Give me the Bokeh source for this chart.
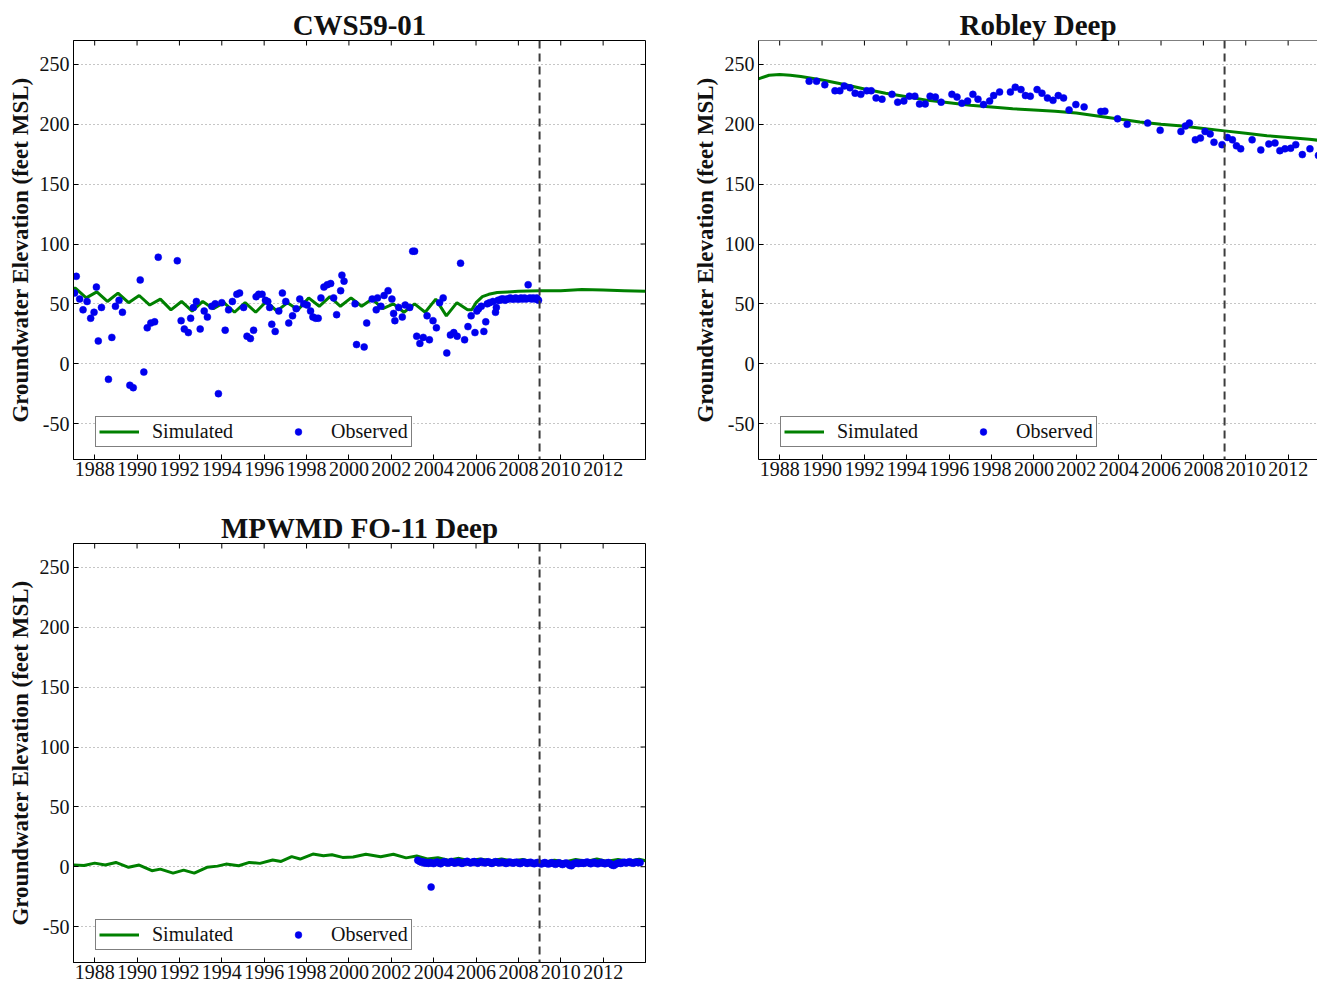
from bokeh.plotting import figure
from bokeh.models import Range1d, LinearAxis, FixedTicker, Span, Legend, LegendItem, Grid
from bokeh.layouts import column, row
from bokeh.embed import file_html
from bokeh.resources import INLINE

FONT = "Liberation Serif"

# ---------------- data ----------------
x_ticks = [1988, 1990, 1992, 1994, 1996, 1998, 2000, 2002, 2004, 2006, 2008, 2010, 2012]
y_ticks = [-50, 0, 50, 100, 150, 200, 250]
titles = ["CWS59-01", "Robley Deep", "MPWMD FO-11 Deep"]
y_label = "Groundwater Elevation (feet MSL)"
cutoff_year = 2009

# CWS59-01 simulated
cws_sim_year = [1987.0, 1987.1, 1987.6, 1988.1, 1988.6, 1989.1, 1989.6, 1990.1, 1990.6, 1991.1,
                1991.6, 1992.1, 1992.6, 1993.1, 1993.6, 1994.1, 1994.6, 1995.1, 1995.6, 1996.1,
                1996.6, 1997.1, 1997.6, 1998.1, 1998.6, 1999.1, 1999.6, 2000.1, 2000.6, 2001.1,
                2001.6, 2002.1, 2002.6, 2003.1, 2003.6, 2004.1, 2004.6, 2005.1, 2005.6, 2005.8,
                2006.0, 2006.3, 2006.6, 2007.0, 2007.5, 2008.0, 2009.0, 2010.0, 2011.0, 2012.0,
                2013.0, 2014.0]
cws_sim_val = [63, 63, 55, 60, 52, 59, 51, 57, 49, 54,
               45, 52, 44, 52, 46, 51, 43, 51, 43, 52,
               44, 51, 45, 55, 48, 56, 48, 55, 48, 54,
               46, 50, 43, 50, 43, 54, 40, 51, 45, 45,
               51, 56, 58, 59.5, 60, 60.5, 61, 61, 62, 61.5,
               61, 60.5]

# CWS59-01 observed
cws_obs_year = [1987.05, 1987.13, 1987.29, 1987.45, 1987.64, 1987.81, 1987.97, 1988.08, 1988.17, 1988.32,
                1988.65, 1988.81, 1988.98, 1989.15, 1989.31, 1989.66, 1989.82, 1990.15, 1990.32, 1990.48,
                1990.65, 1990.83, 1991.00, 1991.90, 1992.08, 1992.23, 1992.42, 1992.53, 1992.66, 1992.80,
                1992.98, 1993.17, 1993.32, 1993.53, 1993.69, 1993.84, 1994.00, 1994.16, 1994.32, 1994.50,
                1994.71, 1994.84, 1995.03, 1995.19, 1995.35, 1995.50, 1995.62, 1995.74, 1995.90, 1996.06,
                1996.17, 1996.26, 1996.36, 1996.52, 1996.69, 1996.86, 1997.02, 1997.16, 1997.34, 1997.51,
                1997.68, 1997.87, 1998.03, 1998.19, 1998.30, 1998.43, 1998.55, 1998.68, 1998.82, 1998.98,
                1999.14, 1999.28, 1999.42, 1999.61, 1999.67, 1999.77, 2000.29, 2000.36, 2000.72, 2000.84,
                2001.10, 2001.29, 2001.35, 2001.51, 2001.66, 2001.85, 2002.03, 2002.11, 2002.17, 2002.35,
                2002.52, 2002.66, 2002.87, 2003.01, 2003.10, 2003.20, 2003.35, 2003.51, 2003.69, 2003.80,
                2003.97, 2004.13, 2004.28, 2004.45, 2004.62, 2004.79, 2004.95, 2005.11, 2005.27, 2005.46,
                2005.62, 2005.77, 2005.95, 2006.04, 2006.12, 2006.25, 2006.37, 2006.46, 2006.53, 2006.64,
                2006.80, 2006.92, 2006.96, 2007.04, 2007.12, 2007.20, 2007.29, 2007.37, 2007.45, 2007.54,
                2007.62, 2007.70, 2007.79, 2007.87, 2007.95, 2008.04, 2008.12, 2008.20, 2008.29, 2008.37,
                2008.46, 2008.54, 2008.62, 2008.70, 2008.79, 2008.87, 2008.95]
cws_obs_val = [59, 73, 54, 45, 52, 38, 43, 64, 19, 47,
               -13, 22, 48, 53, 43, -18, -20, 70, -7, 30,
               34, 35, 89, 86, 36, 29, 26, 38, 47, 52,
               29, 44, 39, 48, 50, -25, 51, 28, 45, 52,
               58, 59, 47, 23, 21, 28, 56, 58, 58, 53,
               52, 47, 33, 27, 44, 59, 52, 34, 40, 46,
               54, 50, 49, 44, 39, 38, 38, 55, 64, 66,
               67, 55, 41, 61, 74, 69, 50, 16, 14, 34,
               54, 45, 55, 48, 57, 61, 54, 42, 36, 47,
               39, 49, 47, 94, 94, 23, 17, 22, 40, 20,
               36, 30, 51, 55, 9, 24, 26, 23, 84, 20,
               31, 40, 26, 44, 46, 48, 27, 35, 50, 51,
               52, 43, 47, 53, 53, 54, 54, 53, 54, 54,
               55, 54, 54, 55, 54, 54, 55, 54, 55, 54,
               66, 55, 54, 55, 54, 55, 53]

# Robley Deep simulated
rob_sim_year = [1987.0, 1987.5, 1988.0, 1988.5, 1989.0, 1990.0, 1991.0, 1992.0, 1993.0, 1994.0,
                1995.0, 1996.0, 1997.0, 1998.0, 1999.0, 2000.0, 2001.0, 2002.0, 2003.0, 2004.0,
                2005.0, 2006.0, 2007.0, 2008.0, 2009.0, 2010.0, 2011.0, 2012.0, 2013.0, 2014.0]
rob_sim_val = [238, 241, 241.5, 241, 240, 237, 233.5, 229.5, 226, 223,
               220, 218, 216, 214.5, 213, 212, 211, 209.5, 207, 204.5,
               202, 200, 198.5, 196.5, 194.5, 192.5, 190.5, 189, 187.5, 185.5]

# Robley Deep observed
rob_obs_year = [1989.39, 1989.74, 1990.13, 1990.61, 1990.84, 1991.05, 1991.32, 1991.56, 1991.83, 1992.11,
                1992.32, 1992.55, 1992.83, 1993.30, 1993.57, 1993.86, 1994.12, 1994.38, 1994.60, 1994.87,
                1995.10, 1995.35, 1995.62, 1996.13, 1996.37, 1996.60, 1996.87, 1997.12, 1997.36, 1997.62,
                1997.91, 1998.10, 1998.38, 1998.89, 1999.12, 1999.39, 1999.60, 1999.83, 2000.15, 2000.38,
                2000.64, 2000.90, 2001.15, 2001.40, 2001.66, 2001.98, 2002.37, 2003.16, 2003.35, 2003.95,
                2004.40, 2005.37, 2005.96, 2006.94, 2007.15, 2007.34, 2007.62, 2007.86, 2008.08, 2008.32,
                2008.50, 2008.88, 2009.13, 2009.37, 2009.56, 2009.76, 2010.30, 2010.71, 2011.09, 2011.38,
                2011.61, 2011.85, 2012.12, 2012.36, 2012.67, 2013.03, 2013.43]
rob_obs_val = [236, 236, 233, 228, 228, 232, 230.5, 226, 225, 228,
               228, 222, 221, 225, 218.5, 219.5, 223.5, 223.5, 217, 217,
               223.5, 222.7, 218.5, 225, 222.7, 217.6, 219.4, 225, 221, 216.5,
               219.4, 224, 227, 227, 231, 229, 224, 223.5, 229, 226,
               222, 220, 224, 222, 212, 216.5, 214.5, 210.7, 211, 204.6,
               200, 201, 195, 194, 198.5, 201, 187, 188.5, 194, 192,
               185, 183, 189, 187, 182, 179.5, 187, 178.6, 183.6, 184.4,
               178, 179.5, 180, 183, 174.7, 179.5, 174]

# MPWMD FO-11 Deep simulated
mp_sim_year = [1987.0, 1987.5, 1988.0, 1988.5, 1989.0, 1989.6, 1990.1, 1990.7, 1991.1, 1991.7,
               1992.2, 1992.7, 1993.3, 1993.8, 1994.2, 1994.8, 1995.3, 1995.8, 1996.4, 1996.8,
               1997.3, 1997.7, 1998.3, 1998.8, 1999.2, 1999.7, 2000.2, 2000.8, 2001.5, 2002.1,
               2002.7, 2003.2, 2003.7, 2004.2, 2004.7, 2005.2, 2005.7, 2006.2, 2006.7, 2007.2,
               2007.7, 2008.2, 2008.7, 2009.2, 2009.7, 2010.2, 2010.7, 2011.2, 2011.7, 2012.2,
               2012.7, 2013.2, 2013.7, 2014.0]
mp_sim_val = [1.5, 1.0, 3.0, 1.5, 3.6, -0.5, 1.4, -3.3, -2.0, -5.3,
              -2.8, -5.3, -0.5, 0.5, 2.2, 0.8, 3.6, 2.8, 5.6, 4.4,
              8.4, 6.4, 10.6, 9.2, 10.0, 7.8, 8.2, 10.4, 8.4, 10.4,
              7.4, 9.0, 6.5, 7.5, 5.5, 7.0, 5.0, 6.5, 5.0, 6.5,
              4.8, 6.0, 4.0, 3.8, 5.5, 4.0, 6.0, 4.5, 6.5, 4.5,
              6.0, 4.5, 6.2, 5.0]

# MPWMD FO-11 Deep observed: monthly from April 2003
mp_obs_start = 2003.25
mp_obs_val = [5.5, 4.5, 3.8, 4.2, 3.0, 3.5, 2.8, 3.6, 3.2,
              2.6, 3.4, 4.0, 3.2, 2.5, 3.6, 4.2, 3.8, 3.0, 3.5, 4.4, 3.6,
              3.0, 3.8, 4.2, 3.5, 2.8, 3.3, 4.0, 4.5, 3.6, 3.1, 3.9, 4.3,
              3.5, 2.9, 3.8, 4.4, 3.7, 3.2, 3.9, 4.1, 3.3, 2.8, 3.6, 4.2,
              3.8, 3.1, 3.5, 4.0, 3.4, 2.7, 3.3, 3.9, 3.5, 3.0, 3.6, 3.8,
              3.2, 2.6, 3.4, 3.9, 3.3, 2.8, 3.5, 3.7, 3.0, 2.5, 3.2, 3.6,
              2.9, 2.3, 3.0, 3.5, 2.8, 2.2, 2.9, 3.4, 2.6, 2.0, 2.7, 3.3,
              2.5, 1.8, 2.6, 3.2, 2.4, 1.2, 0.8, 2.2, 2.9, 3.3, 2.6, 3.0,
              3.4, 2.8, 3.5, 3.9, 3.1, 2.5, 3.3, 3.7, 2.9, 2.4, 3.2, 3.6,
              3.0, 2.4, 3.2, 3.5, 2.6, 1.5, 1.0, 2.0, 2.8, 3.3, 2.7, 3.4,
              3.8, 3.1, 3.6, 4.1, 3.4, 2.9, 3.5, 3.9, 3.3, 3.6]
mp_outlier_year = [2003.88]
mp_outlier_val = [-17]

GREEN = "#008000"
BLUE = "#0000ee"
X_START, Y_START, Y_END = 1987, -80, 270
FRAME_W, FRAME_H = 572, 419
TICK = 5


def style_axis(ax):
    ax.major_tick_in = TICK
    ax.major_tick_out = 0
    ax.minor_tick_line_color = None
    ax.axis_line_color = "black"
    ax.axis_line_width = 1
    ax.major_tick_line_color = "black"
    ax.major_label_text_font = FONT
    ax.major_label_text_font_size = "20px"
    ax.major_label_text_color = "#111111"


def make_panel(title, x_end, width, height, min_right, min_bottom, right_side):
    p = figure(width=width, height=height,
               x_range=Range1d(X_START, x_end), y_range=Range1d(Y_START, Y_END),
               output_backend="svg", toolbar_location=None,
               x_axis_location=None, y_axis_location=None,
               min_border_left=73, min_border_right=min_right,
               min_border_top=40, min_border_bottom=min_bottom)
    p.outline_line_color = "black" if right_side else None
    p.background_fill_color = "white"
    p.border_fill_color = "white"
    p.xgrid.visible = False
    p.ygrid.visible = False

    p.title.text = title
    p.title.align = "center"
    p.title.text_font = FONT
    p.title.text_font_size = "29px"
    p.title.text_font_style = "bold"
    p.title.text_color = "#111111"
    p.title.standoff = 0

    xt = FixedTicker(ticks=x_ticks)
    yt = FixedTicker(ticks=y_ticks)

    below = LinearAxis(ticker=xt)
    style_axis(below)
    below.major_label_standoff = 2
    p.add_layout(below, "below")

    left = LinearAxis(ticker=yt, axis_label=y_label)
    style_axis(left)
    left.major_label_standoff = 4
    left.axis_label_standoff = 4
    left.axis_label_text_font = FONT
    left.axis_label_text_font_size = "23px"
    left.axis_label_text_font_style = "bold"
    left.axis_label_text_color = "#111111"
    left.major_label_overrides = {-50: "-50"}
    p.add_layout(left, "left")

    # inward tick marks along the top edge (and right edge when it is shown)
    dy = TICK * (Y_END - Y_START) / FRAME_H
    p.segment(x0=x_ticks, y0=[Y_END] * len(x_ticks), x1=x_ticks, y1=[Y_END - dy] * len(x_ticks),
              line_color="black", line_width=1)
    if right_side:
        dx = TICK * (x_end - X_START) / FRAME_W
        p.segment(x0=[x_end] * len(y_ticks), y0=y_ticks, x1=[x_end - dx] * len(y_ticks), y1=y_ticks,
                  line_color="black", line_width=1)
    else:
        p.add_layout(Span(location=Y_END, dimension="width", line_color="black", line_width=1))

    p.add_layout(Grid(dimension=1, ticker=yt, grid_line_color="#8c8c8c",
                      grid_line_dash="1 3", grid_line_width=1))
    p.add_layout(Span(location=cutoff_year, dimension="height", line_color="#3c3c3c",
                      line_width=2, line_dash="8 5"))
    return p


def add_series(p, sx, sy, ox, oy):
    ln = p.line(sx, sy, line_color=GREEN, line_width=3)
    sc = p.scatter(ox, oy, marker="circle", size=7, fill_color=BLUE, line_color=BLUE, line_width=0.5)
    leg = Legend(items=[LegendItem(label="Simulated", renderers=[ln]),
                        LegendItem(label="Observed", renderers=[sc])],
                 orientation="horizontal", location=(22, 12), margin=0,
                 padding=3, spacing=45, glyph_width=40, glyph_height=17,
                 label_height=17, label_standoff=13,
                 label_text_font=FONT, label_text_font_size="20px",
                 label_text_color="#111111",
                 border_line_color="black", border_line_width=1,
                 background_fill_color="white", background_fill_alpha=1.0)
    p.add_layout(leg)


# right panel is cut by the window edge, as in the original
p2_frame_w = 1317 - 685 - 73
p2_x_end = X_START + p2_frame_w * (2014 - X_START) / FRAME_W

p1 = make_panel(titles[0], 2014, 685, 503, 40, 44, True)
add_series(p1, cws_sim_year, cws_sim_val, cws_obs_year, cws_obs_val)

p2 = make_panel(titles[1], p2_x_end, 632, 503, 0, 44, False)
p2.title.offset = 6
add_series(p2, rob_sim_year, rob_sim_val, rob_obs_year, rob_obs_val)

mp_obs_year = [mp_obs_start + i / 12 for i in range(len(mp_obs_val))] + mp_outlier_year
mp_obs_all = mp_obs_val + mp_outlier_val
p3 = make_panel(titles[2], 2014, 685, 482, 40, 23, True)
add_series(p3, mp_sim_year, mp_sim_val, mp_obs_year, mp_obs_all)

layout = column(row(p1, p2), p3)
open("out.html", "w").write(file_html(layout, INLINE))
